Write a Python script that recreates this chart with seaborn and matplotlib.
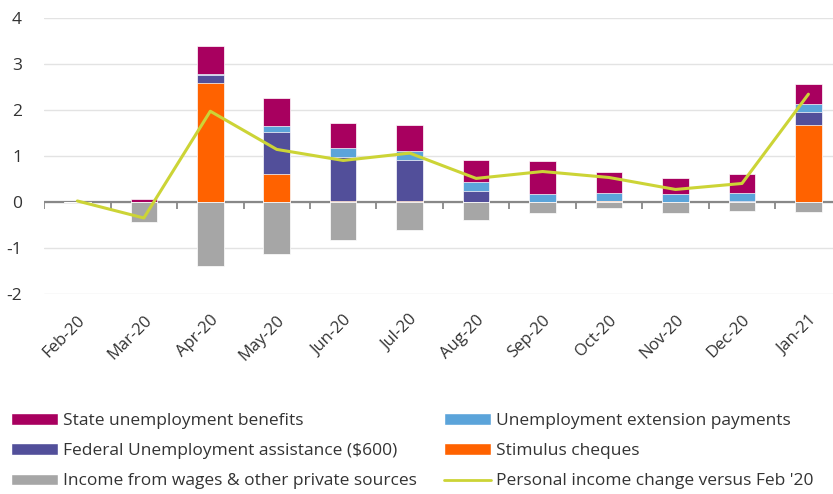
import numpy as np
import pandas as pd
import matplotlib
matplotlib.use("Agg")
import matplotlib.pyplot as plt
import seaborn as sns
from matplotlib.patches import Patch
from matplotlib.lines import Line2D

months = ["Feb-20", "Mar-20", "Apr-20", "May-20", "Jun-20", "Jul-20",
          "Aug-20", "Sep-20", "Oct-20", "Nov-20", "Dec-20", "Jan-21"]
stimulus = [0.00, 0.00, 2.58, 0.60, 0.03, 0.03, 0.00, 0.00, 0.02, 0.00, 0.00, 1.66]
federal = [0.00, 0.00, 0.17, 0.91, 0.95, 0.88, 0.23, 0.00, 0.00, 0.00, 0.03, 0.29]
extension = [0.00, 0.00, 0.03, 0.13, 0.18, 0.19, 0.20, 0.18, 0.18, 0.17, 0.17, 0.17]
state = [0.00, 0.07, 0.60, 0.62, 0.56, 0.56, 0.49, 0.70, 0.44, 0.35, 0.40, 0.44]
wages = [0.00, -0.43, -1.40, -1.14, -0.82, -0.61, -0.40, -0.24, -0.14, -0.24, -0.20, -0.22]
personal = [0.02, -0.35, 1.97, 1.14, 0.90, 1.06, 0.51, 0.66, 0.53, 0.27, 0.40, 2.34]

labels = ["State unemployment benefits", "Federal Unemployment assistance ($600)",
          "Income from wages & other private sources", "Unemployment extension payments",
          "Stimulus cheques", "Personal income change versus Feb '20"]

c_state = "#A8005F"
c_ext = "#5BA4DA"
c_fed = "#524F9A"
c_stim = "#FF6200"
c_wage = "#A6A6A6"
c_line = "#CCD436"
txt = "#333333"

sns.set_theme(style="white")
plt.rcParams["font.family"] = ["Open Sans", "DejaVu Sans"]

df = pd.DataFrame({"month": months, "stim": stimulus, "fed": federal,
                   "ext": extension, "state": state, "wage": wages,
                   "line": personal})
df["l1"] = df["stim"]
df["l2"] = df["l1"] + df["fed"]
df["l3"] = df["l2"] + df["ext"]
df["l4"] = df["l3"] + df["state"]

fig = plt.figure(figsize=(8.33, 4.94), dpi=100)
ax = fig.add_axes([0.053, 0.405, 0.947, 0.559])

for col, c in [("l4", c_state), ("l3", c_ext), ("l2", c_fed), ("l1", c_stim), ("wage", c_wage)]:
    sns.barplot(data=df, x="month", y=col, color=c, width=0.4, ax=ax,
                edgecolor="white", linewidth=0.5, saturation=1, errorbar=None,
                zorder=2)

# zero axis line with boundary tick marks
ax.axhline(0, color="#888888", linewidth=1.6, zorder=1.8)
bounds = np.arange(-0.5, len(months) - 0.5, 1.0)
ax.vlines(bounds, -0.15, 0, colors="#888888", linewidth=1.3, zorder=1.8)

sns.lineplot(x=np.arange(len(months)), y=df["line"].values, color=c_line,
             linewidth=2.2, ax=ax, zorder=3)

ax.set_ylim(-2, 4)
ax.set_xlim(-0.5, 11.37)
ax.set_yticks(range(-2, 5))
ax.set_yticklabels([str(v) for v in range(-2, 5)])
ax.yaxis.grid(True, color="#E3E3E3", linewidth=1)
ax.set_axisbelow(True)
for s in ax.spines.values():
    s.set_visible(False)
ax.set_xlabel("")
ax.set_ylabel("")
ax.tick_params(axis="y", length=0, pad=16, labelsize=12.5, labelcolor=txt)
ax.tick_params(axis="x", length=0, pad=13, labelsize=12, labelcolor=txt)
ax.set_xticks(range(len(months)))
ax.set_xticklabels(months, rotation=45, ha="right", rotation_mode="anchor")

h = [Patch(facecolor=c_state), Patch(facecolor=c_fed), Patch(facecolor=c_wage)]
h2 = [Patch(facecolor=c_ext), Patch(facecolor=c_stim),
      Line2D([0], [0], color=c_line, linewidth=2)]
kw = dict(frameon=False, fontsize=12.5, handlelength=2.7, handleheight=0.63,
          handletextpad=0.3, labelspacing=0.82, labelcolor=txt, loc="upper left",
          borderaxespad=0, borderpad=0)
fig.legend(h, labels[:3], bbox_to_anchor=(0.013, 0.164), **kw)
fig.legend(h2, labels[3:], bbox_to_anchor=(0.533, 0.164), **kw)

fig.savefig("out.png", dpi=100)
